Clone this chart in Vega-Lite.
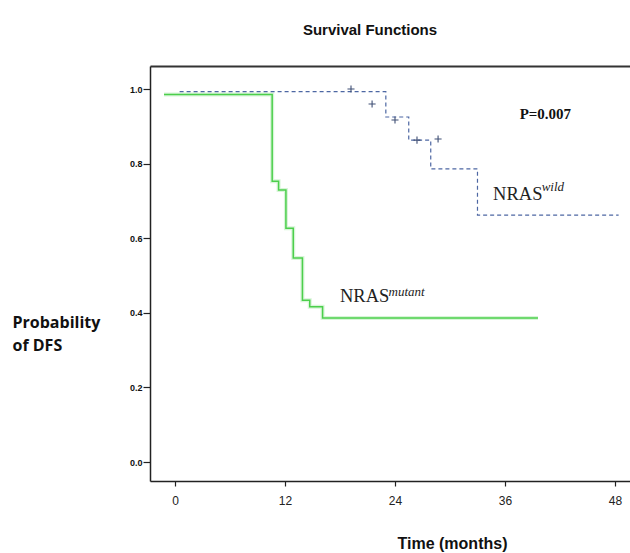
{
  "$schema": "https://vega.github.io/schema/vega-lite/v6.json",
  "width": 480,
  "height": 415,
  "autosize": {"type": "none"},
  "padding": {"left": 150, "top": 66, "right": 0, "bottom": 72},
  "background": "white",
  "title": {
    "text": "Survival Functions",
    "font": "Liberation Sans",
    "fontWeight": 900,
    "fontSize": 15,
    "color": "#111",
    "anchor": "middle",
    "frame": "group",
    "dx": -20,
    "baseline": "bottom",
    "offset": 29,
    "dy": 16
  },
  "config": {
    "view": {"stroke": null},
    "axis": {"grid": false, "domainColor": "#222", "tickColor": "#222", "domainWidth": 1.5, "tickWidth": 1.2}
  },
  "resolve": {"axis": {"x": "independent"}},
  "datasets": {
    "curves": [
      {"series": "mutant", "t": -1.2, "p": 0.985},
      {"series": "mutant", "t": 10.6, "p": 0.753},
      {"series": "mutant", "t": 11.3, "p": 0.729},
      {"series": "mutant", "t": 12.1, "p": 0.627},
      {"series": "mutant", "t": 12.9, "p": 0.547},
      {"series": "mutant", "t": 13.9, "p": 0.434},
      {"series": "mutant", "t": 14.7, "p": 0.416},
      {"series": "mutant", "t": 16.1, "p": 0.386},
      {"series": "mutant", "t": 39.6, "p": 0.386},
      {"series": "wild", "t": 0.5, "p": 0.993},
      {"series": "wild", "t": 23.0, "p": 0.925},
      {"series": "wild", "t": 25.5, "p": 0.863},
      {"series": "wild", "t": 27.9, "p": 0.786},
      {"series": "wild", "t": 33.0, "p": 0.662},
      {"series": "wild", "t": 48.4, "p": 0.662}
    ],
    "censor": [
      {"t": 19.2, "p": 1.0},
      {"t": 21.5, "p": 0.96},
      {"t": 24.0, "p": 0.917},
      {"t": 26.4, "p": 0.863},
      {"t": 28.7, "p": 0.866}
    ],
    "labels": [
      {"t": 34.7, "p": 0.702, "text": "NRAS", "kind": "main"},
      {"t": 40.0, "p": 0.727, "text": "wild", "kind": "sup"},
      {"t": 18.0, "p": 0.429, "text": "NRAS", "kind": "main"},
      {"t": 23.3, "p": 0.446, "text": "mutant", "kind": "sup"},
      {"t": 37.6, "p": 0.920, "text": "P=0.007", "kind": "p"}
    ]
  },
  "layer": [
    {
      "data": {"name": "curves"},
      "transform": [{"filter": "datum.series === 'mutant'"}],
      "mark": {"type": "line", "interpolate": "step-after", "stroke": "#d8f5d8", "strokeWidth": 4},
      "encoding": {
        "x": {
          "field": "t", "type": "quantitative",
          "scale": {"domain": [-2.73, 49.64], "nice": false, "zero": false},
          "axis": {
            "values": [0, 12, 24, 36, 48],
            "tickSize": 5,
            "labelFont": "Liberation Sans",
            "labelFontSize": 12,
            "labelColor": "#222",
            "labelPadding": 9,
            "title": "Time (months)",
            "titleFont": "Liberation Sans",
            "titleFontWeight": "bold",
            "titleFontSize": 16,
            "titleColor": "#111",
            "titleX": 302,
            "titleY": 62,
            "titleBaseline": "middle",
            "titleAnchor": null
          }
        },
        "y": {
          "field": "p", "type": "quantitative",
          "scale": {"domain": [-0.0509, 1.0617], "nice": false, "zero": false},
          "axis": {
            "values": [0, 0.2, 0.4, 0.6, 0.8, 1.0],
            "format": ".1f",
            "tickSize": 7,
            "labelFont": "Liberation Sans",
            "labelFontWeight": "bold",
            "labelFontSize": 9,
            "labelColor": "#111",
            "labelPadding": 1,
            "title": ["Probability", "of  DFS"],
            "titleFont": "Open Sans",
            "titleFontWeight": "bold",
            "titleFontSize": 16,
            "titleColor": "#111",
            "titleAngle": 0,
            "titleAlign": "left",
            "titleBaseline": "alphabetic",
            "titleX": -138,
            "titleY": 261,
            "titleLineHeight": 23
          }
        }
      }
    },
    {
      "data": {"name": "curves"},
      "transform": [{"filter": "datum.series === 'mutant'"}],
      "mark": {"type": "line", "interpolate": "step-after", "stroke": "#4ccf4c", "strokeWidth": 1.5},
      "encoding": {
        "x": {"field": "t", "type": "quantitative", "axis": {"orient": "top", "labels": false, "ticks": false, "title": null, "domainColor": "#333", "domainWidth": 1.8}},
        "y": {"field": "p", "type": "quantitative"}
      }
    },
    {
      "data": {"name": "curves"},
      "transform": [{"filter": "datum.series === 'wild'"}],
      "mark": {"type": "line", "interpolate": "step-after", "stroke": "#4d67a3", "strokeWidth": 1.2, "strokeDash": [4, 3]},
      "encoding": {
        "x": {"field": "t", "type": "quantitative", "axis": null},
        "y": {"field": "p", "type": "quantitative"}
      }
    },
    {
      "data": {"name": "censor"},
      "mark": {"type": "point", "shape": "M-1,0L1,0M0,-1L0,1", "size": 50, "filled": false, "stroke": "#3f4f75", "strokeWidth": 1.1, "opacity": 1},
      "encoding": {
        "x": {"field": "t", "type": "quantitative", "axis": null},
        "y": {"field": "p", "type": "quantitative"}
      }
    },
    {
      "data": {"name": "labels"},
      "transform": [{"filter": "datum.kind === 'main'"}],
      "mark": {"type": "text", "font": "Liberation Serif", "fontSize": 18.5, "align": "left", "baseline": "alphabetic", "color": "#222"},
      "encoding": {
        "x": {"field": "t", "type": "quantitative", "axis": null},
        "y": {"field": "p", "type": "quantitative"},
        "text": {"field": "text"}
      }
    },
    {
      "data": {"name": "labels"},
      "transform": [{"filter": "datum.kind === 'sup'"}],
      "mark": {"type": "text", "font": "Liberation Serif", "fontStyle": "italic", "fontSize": 13, "align": "left", "baseline": "alphabetic", "color": "#222"},
      "encoding": {
        "x": {"field": "t", "type": "quantitative", "axis": null},
        "y": {"field": "p", "type": "quantitative"},
        "text": {"field": "text"}
      }
    },
    {
      "data": {"name": "labels"},
      "transform": [{"filter": "datum.kind === 'p'"}],
      "mark": {"type": "text", "font": "Liberation Serif", "fontWeight": "bold", "fontSize": 15, "align": "left", "baseline": "alphabetic", "color": "#111"},
      "encoding": {
        "x": {"field": "t", "type": "quantitative", "axis": null},
        "y": {"field": "p", "type": "quantitative"},
        "text": {"field": "text"}
      }
    }
  ]
}
